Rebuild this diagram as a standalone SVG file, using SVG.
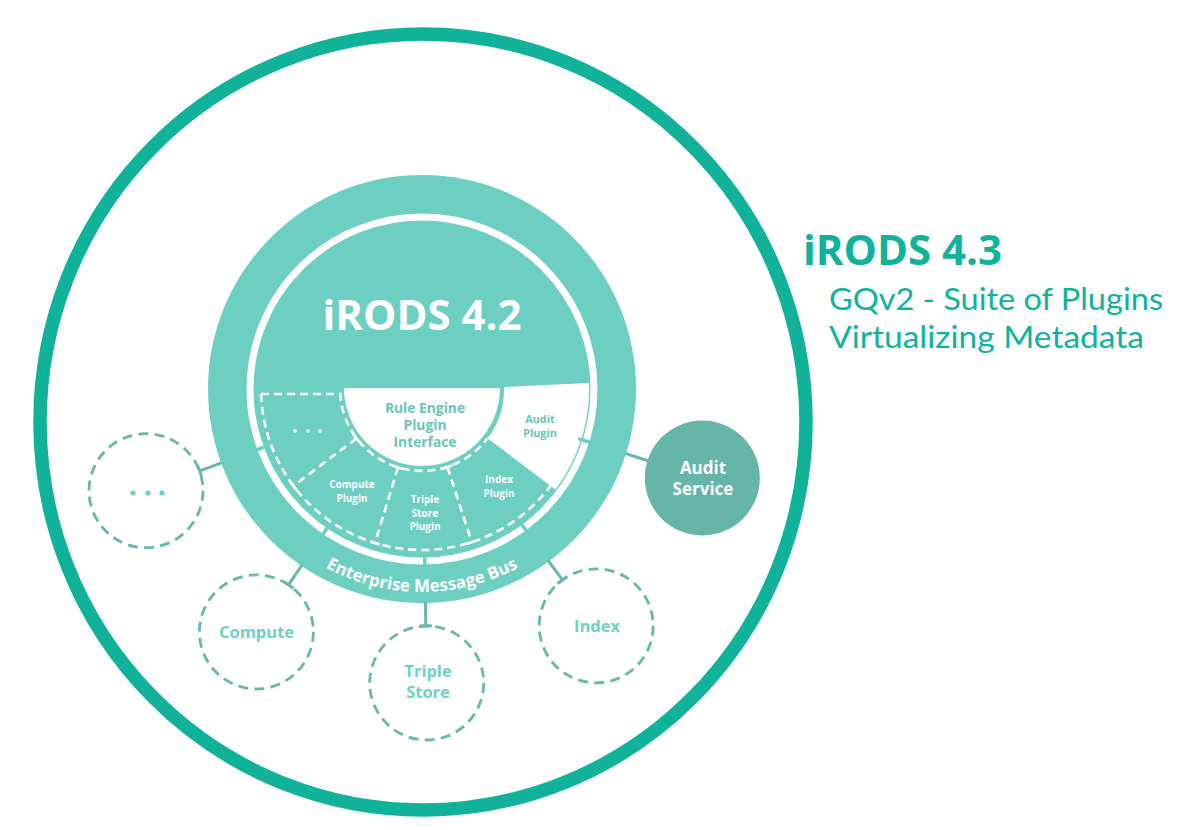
<svg xmlns="http://www.w3.org/2000/svg" width="1196" height="830" viewBox="0 0 1196 830">
<style>
 .b{font-family:"Open Sans","Liberation Sans",sans-serif;font-weight:700}
 .r{font-family:Lato,"Open Sans","Liberation Sans",sans-serif;font-weight:400}
 .disk{fill:#6ccfc1}
 .dash{fill:none;stroke:#fff;stroke-width:2.6;stroke-dasharray:8 5}
 .tick{stroke:#fff;stroke-width:2.6}
 .dc{fill:none;stroke:#67b7aa;stroke-width:2.8;stroke-dasharray:10 6.28}
 .conn{stroke:#67b7aa;stroke-width:3}
 .gap{stroke:#6ccfc1;stroke-width:3.5}
 .lbl{fill:#6dd1c3;font-size:16.5px;text-anchor:middle}
 .pl{fill:#fff;font-size:10px;text-anchor:middle}
 .inner{fill:#68c6b8;text-anchor:middle}
 .head{fill:#10b39a}
</style>
<defs>
 <g id="div">
  <line x1="82" y1="0" x2="161" y2="0" class="dash"/>
  <line x1="82" y1="-5" x2="82" y2="5" class="tick"/>
  <line x1="161" y1="-5" x2="161" y2="5" class="tick"/>
 </g>
 <path id="busArc" d="M219,389 A203,203 0 0 0 625,389"/>
</defs>
<rect x="0" y="0" width="1196" height="830" fill="#fff"/>

<g id="irods43-boundary">
 <ellipse cx="423" cy="422" rx="383" ry="388" fill="none" stroke="#10b39a" stroke-width="13.5"/>
</g>

<g id="irods43-title">
 <text class="b head" x="803" y="265" font-size="42">iRODS 4.3</text>
 <text class="r head" x="829" y="310" font-size="31.5" textLength="334" lengthAdjust="spacingAndGlyphs">GQv2 - Suite of Plugins</text>
 <text class="r head" x="829" y="348" font-size="31.5" textLength="315" lengthAdjust="spacingAndGlyphs">Virtualizing Metadata</text>
</g>

<g id="irods42">
 <circle cx="422" cy="389" r="214" class="disk"/>
 <circle cx="422" cy="389" r="172" fill="none" stroke="#fff" stroke-width="7"/>
 <text class="b" x="422" y="330" font-size="42" fill="#fff" text-anchor="middle">iRODS 4.2</text>
 <text class="b" font-size="17" fill="#fff" text-anchor="middle"><textPath href="#busArc" startOffset="50%">Enterprise Message Bus</textPath></text>
</g>

<g id="rule-engine">
 <path d="M344,388 H500 A78,78 0 0 1 344,388 Z" fill="#fff"/>
 <text class="b inner" font-size="13.8"><tspan x="425" y="413">Rule Engine</tspan><tspan x="425" y="430">Plugin</tspan><tspan x="425" y="447">Interface</tspan></text>
</g>

<g id="audit-plugin">
 <path d="M504,387 L589,383 A167,167 0 0 1 555.4,489.5 L487.5,438.3 A82,82 0 0 0 504,387 Z" fill="#fff"/>
 <text class="b inner" font-size="10.8"><tspan x="540" y="423">Audit</tspan><tspan x="540" y="437">Plugin</tspan></text>
</g>

<g id="plugin-slots">
 <path d="M261.1,394 H340.2 A82,82 0 0 0 487.5,438.3" class="dash"/>
 <path d="M261.1,394 A161,161 0 0 0 550.6,485.9" class="dash"/>
 <use href="#div" transform="translate(422,389) rotate(143)"/>
 <use href="#div" transform="translate(422,389) rotate(107)"/>
 <use href="#div" transform="translate(422,389) rotate(72)"/>
</g>
<g id="more-plugin">
 <circle cx="295" cy="431" r="1.8" fill="#fff"/>
 <circle cx="308" cy="431" r="1.8" fill="#fff"/>
 <circle cx="320" cy="431" r="1.8" fill="#fff"/>
</g>
<g id="compute-plugin">
 <text class="b pl" font-size="10.3"><tspan x="352" y="488">Compute</tspan><tspan x="352" y="502">Plugin</tspan></text>
</g>
<g id="triple-store-plugin">
 <text class="b pl" font-size="10.3"><tspan x="425" y="503">Triple</tspan><tspan x="425" y="517">Store</tspan><tspan x="425" y="530">Plugin</tspan></text>
</g>
<g id="index-plugin">
 <text class="b pl" font-size="10.3"><tspan x="499" y="483">Index</tspan><tspan x="499" y="497">Plugin</tspan></text>
</g>

<g id="connectors">
 <g transform="translate(422,389) rotate(159.77)">
  <line x1="164" y1="0" x2="181" y2="0" class="gap"/>
  <line x1="213" y1="0" x2="237" y2="0" class="conn"/>
  <line x1="237" y1="-6" x2="237" y2="6" class="conn"/>
 </g>
 <g transform="translate(422,389) rotate(124.29)">
  <line x1="164" y1="0" x2="181" y2="0" class="gap"/>
  <line x1="213" y1="0" x2="237" y2="0" class="conn"/>
  <line x1="237" y1="-6" x2="237" y2="6" class="conn"/>
 </g>
 <g transform="translate(422,389) rotate(89.08)">
  <line x1="164" y1="0" x2="181" y2="0" class="gap"/>
  <line x1="213" y1="0" x2="237" y2="0" class="conn"/>
  <line x1="237" y1="-6" x2="237" y2="6" class="conn"/>
 </g>
 <g transform="translate(422,389) rotate(53.66)">
  <line x1="164" y1="0" x2="181" y2="0" class="gap"/>
  <line x1="213" y1="0" x2="237" y2="0" class="conn"/>
  <line x1="237" y1="-6" x2="237" y2="6" class="conn"/>
 </g>
 <g transform="translate(422,389) rotate(17.6)">
  <line x1="164" y1="0" x2="181" y2="0" class="gap"/>
  <line x1="213" y1="0" x2="238" y2="0" class="conn"/>
 </g>
</g>

<g id="more-service">
 <circle cx="146" cy="490.7" r="57" class="dc"/>
 <circle cx="133" cy="493" r="2.6" fill="#6dd1c3"/>
 <circle cx="148" cy="493" r="2.6" fill="#6dd1c3"/>
 <circle cx="162" cy="493" r="2.6" fill="#6dd1c3"/>
</g>
<g id="compute">
 <circle cx="256.4" cy="631.9" r="57" class="dc"/>
 <text class="b lbl" x="256.5" y="638">Compute</text>
</g>
<g id="triple-store">
 <circle cx="426.7" cy="683" r="57" class="dc"/>
 <text class="b lbl"><tspan x="428" y="677">Triple</tspan><tspan x="428" y="698">Store</tspan></text>
</g>
<g id="index">
 <circle cx="596.2" cy="625.8" r="57" class="dc"/>
 <text class="b lbl" x="597" y="632">Index</text>
</g>
<g id="audit-service">
 <circle cx="702.3" cy="478" r="57.5" fill="#65b5a8"/>
 <text class="b" font-size="17" fill="#fff" text-anchor="middle"><tspan x="703" y="474">Audit</tspan><tspan x="703" y="495">Service</tspan></text>
</g>
</svg>
